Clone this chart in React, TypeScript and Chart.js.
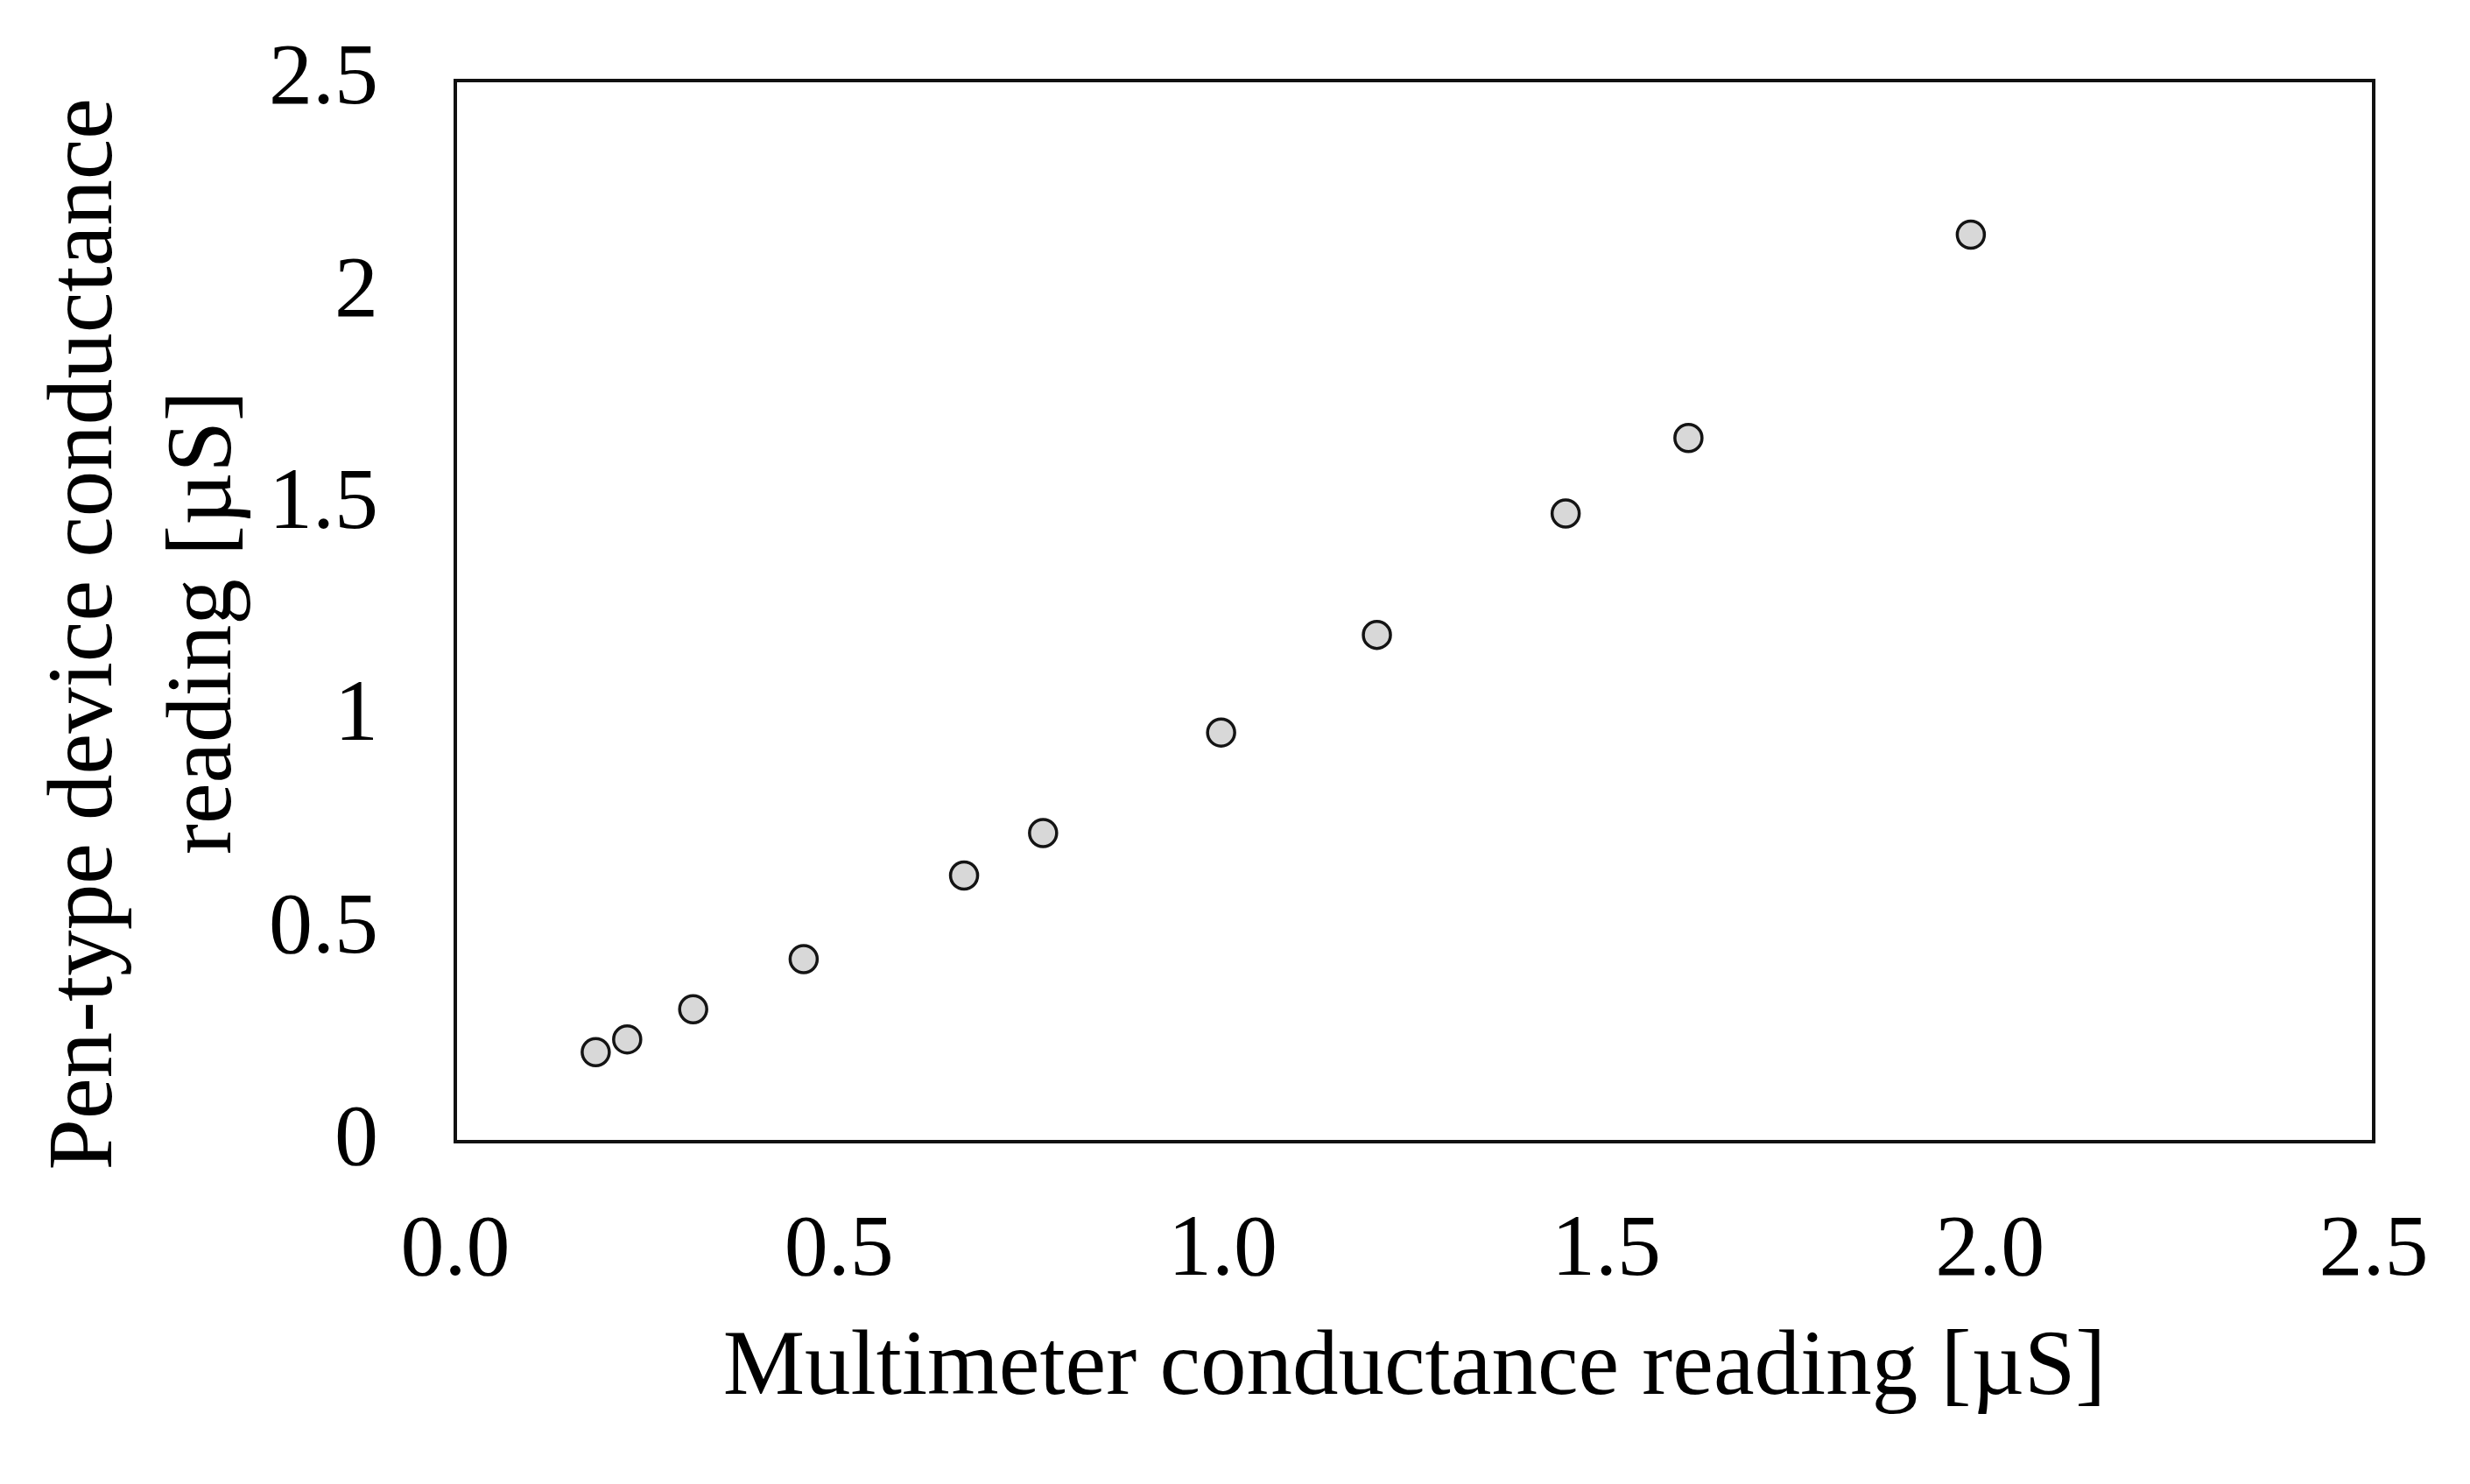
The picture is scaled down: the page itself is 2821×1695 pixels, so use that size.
import React, { useEffect, useRef } from "react";
import { Chart, registerables } from "chart.js";

Chart.register(...registerables);

const multimeterReadings = [0.183, 0.224, 0.31, 0.454, 0.663, 0.766, 0.998, 1.201, 1.447, 1.607, 1.975];
const penDeviceReadings = [0.211, 0.241, 0.312, 0.43, 0.627, 0.727, 0.964, 1.194, 1.48, 1.658, 2.137];
const xTitle = "Multimeter conductance reading [µS]";
const yTitle = ["Pen-type device conductance  ", "reading [µS] "];

const W = 2821;
const H = 1695;
const FONT = "'Liberation Serif', 'Times New Roman', serif";

const framePlugin = {
  id: "frame",
  afterDraw(chart: any) {
    const { ctx, chartArea } = chart;
    ctx.save();
    ctx.strokeStyle = "#111";
    ctx.lineWidth = 4;
    ctx.strokeRect(chartArea.left, chartArea.top, chartArea.right - chartArea.left, chartArea.bottom - chartArea.top);
    ctx.restore();
  },
};

export default function App() {
  const ref = useRef<HTMLCanvasElement | null>(null);
  useEffect(() => {
    document.body.style.margin = "0";
    const points = multimeterReadings.map((x, i) => ({ x, y: penDeviceReadings[i] }));
    const chart = new Chart(ref.current!, {
      type: "scatter",
      data: {
        datasets: [
          {
            data: points,
            pointRadius: 15.5,
            pointHoverRadius: 15.5,
            pointBackgroundColor: "#d8d8d8",
            pointBorderColor: "#141414",
            pointBorderWidth: 3.5,
          },
        ],
      },
      options: {
        animation: false,
        responsive: false,
        devicePixelRatio: 1,
        layout: { padding: { top: 92, right: 110, left: 0, bottom: 0 } },
        plugins: { legend: { display: false }, tooltip: { enabled: false } },
        scales: {
          x: {
            type: "linear",
            min: 0,
            max: 2.5,
            grid: { display: false, drawTicks: false },
            border: { display: false },
            ticks: {
              stepSize: 0.5,
              padding: 66,
              color: "#000",
              font: { family: FONT, size: 100 },
              callback: (v: any) => Number(v).toFixed(1),
            },
            title: {
              display: true,
              text: xTitle,
              color: "#000",
              font: { family: FONT, size: 105, lineHeight: 1.3 },
              padding: { top: 0, bottom: 62 },
            },
            afterFit: (s: any) => {
              s.height = 391;
              s.paddingLeft = 0;
              s.paddingRight = 0;
              s.paddingTop = 0;
              s.paddingBottom = 0;
            },
          },
          y: {
            type: "linear",
            min: 0,
            max: 2.5,
            grid: { display: false, drawTicks: false },
            border: { display: false },
            ticks: {
              stepSize: 0.5,
              padding: 88,
              color: "#000",
              font: { family: FONT, size: 100 },
              callback: (v: any) => String(Number(v)),
            },
            title: {
              display: true,
              text: yTitle,
              color: "#000",
              font: { family: FONT, size: 105, lineHeight: 1.3 },
              padding: { top: 31, bottom: 0 },
            },
            afterFit: (s: any) => {
              s.width = 520;
              s.paddingLeft = 0;
              s.paddingRight = 0;
              s.paddingTop = 0;
              s.paddingBottom = 0;
            },
          },
        },
      },
      plugins: [framePlugin],
    });
    return () => chart.destroy();
  }, []);
  return (
    <canvas
      ref={ref}
      width={W}
      height={H}
      style={{ display: "block", width: W + "px", height: H + "px", background: "#fff" }}
    />
  );
}
